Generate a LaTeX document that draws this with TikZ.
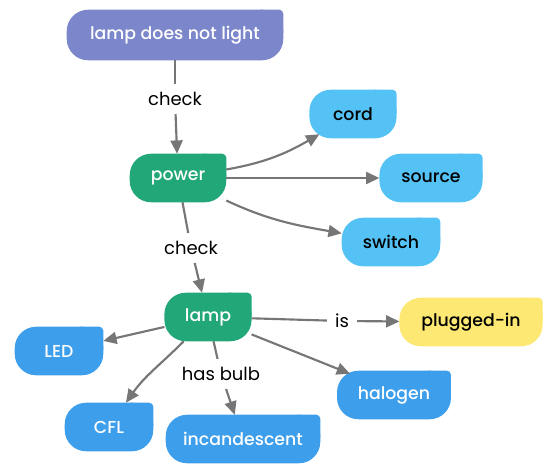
\documentclass[tikz,border=0pt]{standalone}
\usepackage{fontspec}
\setmainfont{Poppins}
\newfontfamily\boxfont{Poppins Medium}
\usetikzlibrary{arrows.meta, backgrounds, calc}

\definecolor{causepurple}{HTML}{7B86CB}
\definecolor{checkgreen}{HTML}{22A878}
\definecolor{partblue}{HTML}{55C2F5}
\definecolor{bulbblue}{HTML}{3D9EEB}
\definecolor{stateyellow}{HTML}{FCE873}
\definecolor{linkgray}{HTML}{767676}

\tikzset{
  box/.style={font=\boxfont\fontsize{13}{15}\selectfont, minimum height=36pt,
    inner xsep=10pt, inner ysep=0pt},
  tag/.style={font=\fontsize{13.5}{15}\selectfont, inner sep=6pt},
  plain/.style={draw=linkgray, line width=1.6pt},
  link/.style={plain, -{Triangle[length=10pt,width=9pt]}},
}

% rounded box, only the top right corner kept nearly sharp
\newcommand{\boxfill}[2]{%
  \fill[#2, rounded corners=16pt] (#1.south west) rectangle (#1.north east);
  \fill[#2, rounded corners=3pt] ($(#1.north east)+(-20pt,-20pt)$) rectangle (#1.north east);
}

\begin{document}
\begin{tikzpicture}[x=0.75pt,y=-0.75pt]
\useasboundingbox (0,0) rectangle (547,465);

\node[box, text=white, minimum height=37.5pt, minimum width=162pt] (problem) at (175,35) {lamp does not light};
\node[box, text=white, minimum width=72pt] (power) at (178,178) {power};
\node[box, minimum width=65pt] (cord) at (353,114) {cord};
\node[box, minimum width=77pt] (source) at (431,178) {source};
\node[box, minimum width=73.5pt] (switch) at (391,242) {switch};
\node[box, text=white, minimum width=65pt] (lamp) at (208,317) {lamp};
\node[box, minimum width=107pt] (plugged) at (471,322) {plugged-in};
\node[box, text=white, minimum width=66pt] (led) at (59,351) {LED};
\node[box, text=white, minimum width=66pt] (cfl) at (109,427) {CFL};
\node[box, text=white, minimum width=115.5pt] (incandescent) at (243,439) {incandescent};
\node[box, text=white, minimum width=85pt] (halogen) at (394,395) {halogen};

\node[tag] (check1) at (175,99) {check};
\node[tag] (check2) at (191,248) {check};
\node[tag] (is) at (342,321) {is};
\node[tag] (hasbulb) at (221,374) {has bulb};

\begin{pgfonlayer}{background}
\foreach \n/\c in {problem/causepurple, power/checkgreen, lamp/checkgreen,
    cord/partblue, source/partblue, switch/partblue, plugged/stateyellow,
    led/bulbblue, cfl/bulbblue, incandescent/bulbblue, halogen/bulbblue} {
  \boxfill{\n}{\c}
}
\end{pgfonlayer}

\draw[plain] (problem) -- (check1);
\draw[link] (check1) -- (power);
\draw[link] (power) to[out=10, in=210] ([shift={(10,-4)}]cord.south west);
\draw[link] (power) -- (source);
\draw[link] (power) to[out=-25, in=170] (switch);
\draw[plain] (power) -- (check2);
\draw[link] (check2) -- (lamp);

\draw[plain] (lamp) -- (is);
\draw[link] (is) -- (plugged);
\draw[link] (lamp) -- (led);
\draw[link] (lamp) to[out=-135, in=55] (cfl);
\draw[plain] (lamp) -- (hasbulb);
\draw[link] (hasbulb) -- (incandescent);
\draw[link] (lamp) -- ([shift={(13,3)}]halogen.north west);
\end{tikzpicture}
\end{document}
